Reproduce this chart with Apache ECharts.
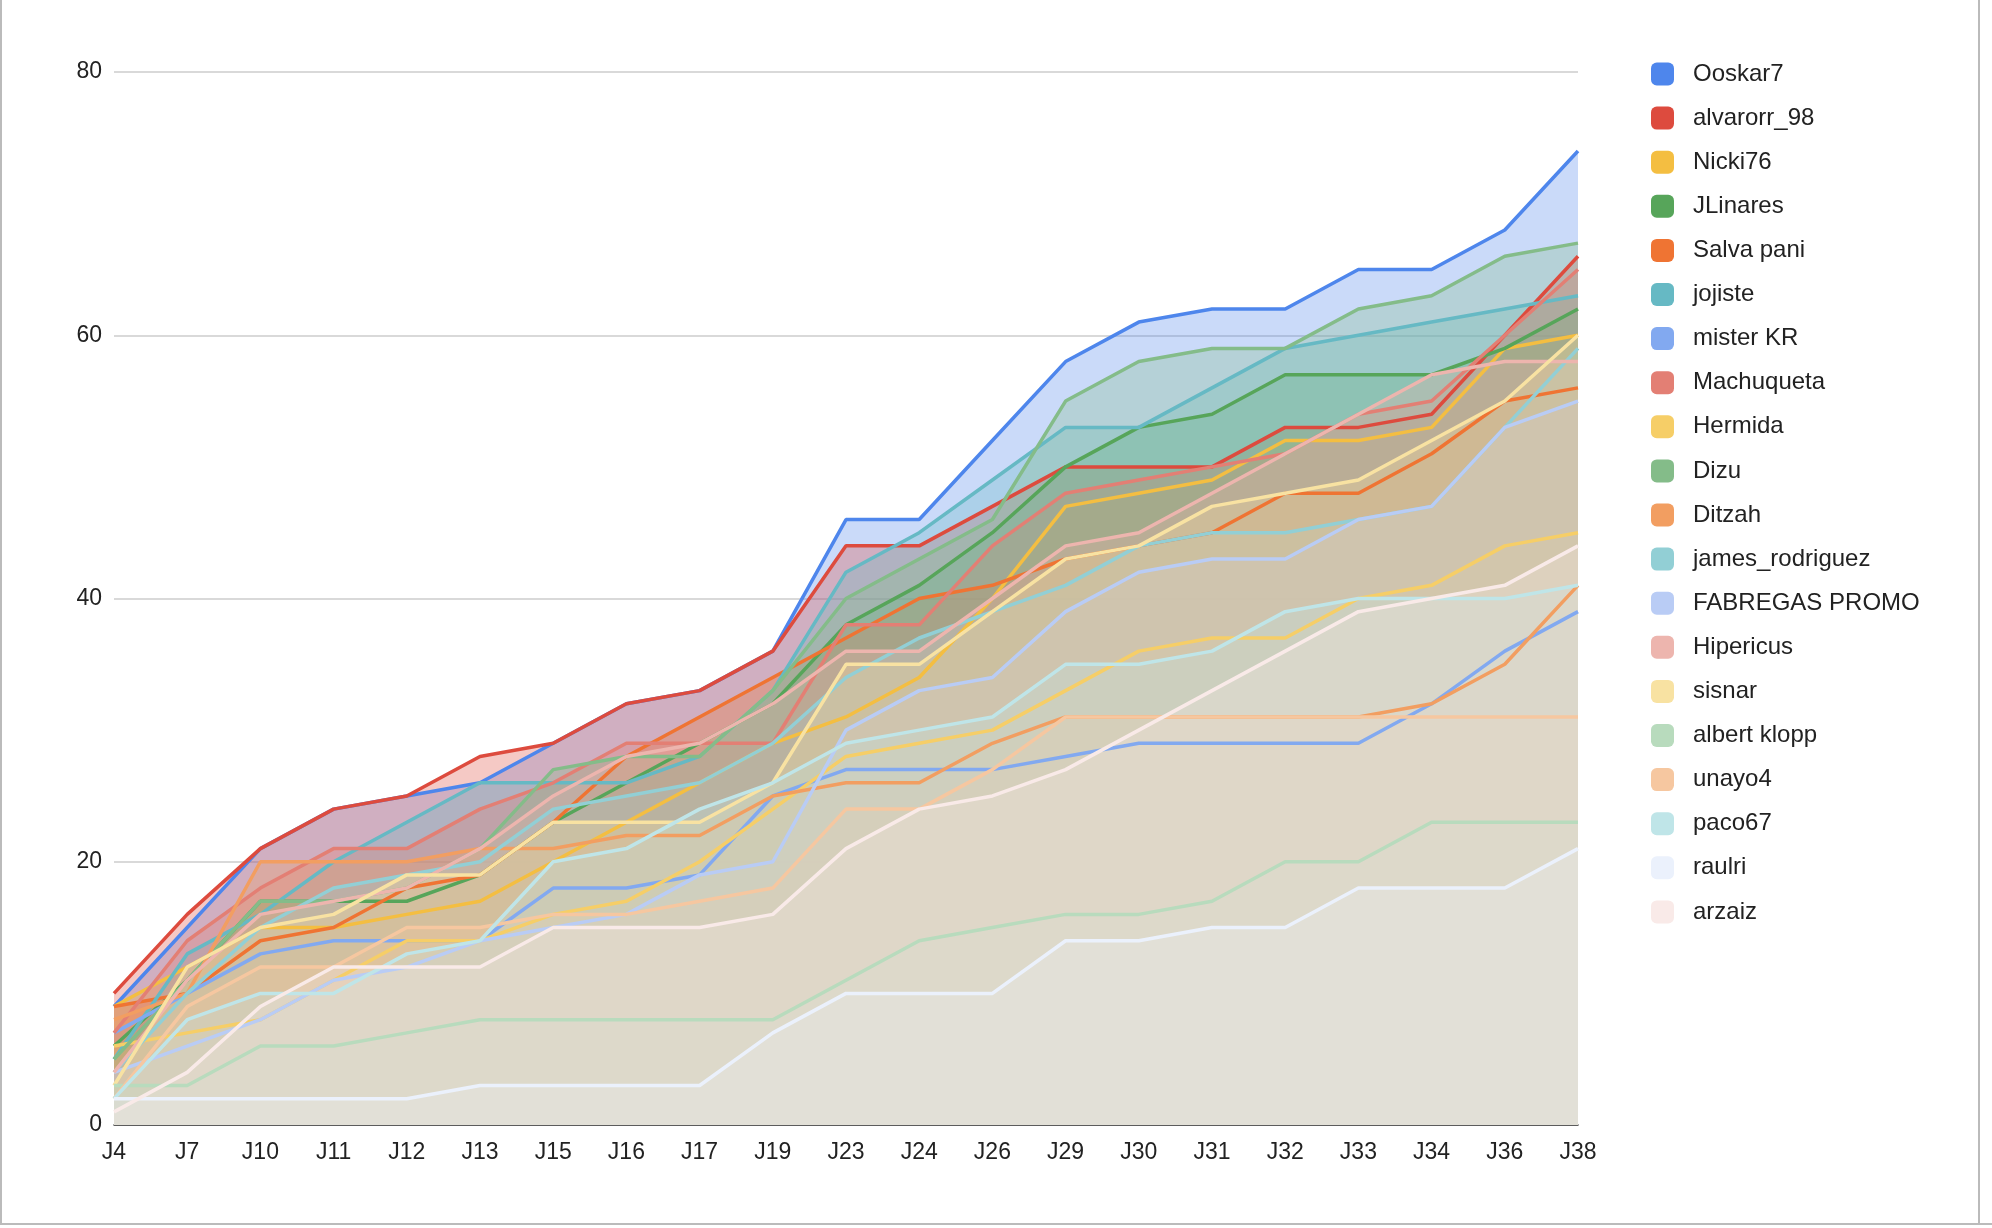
<!DOCTYPE html>
<html>
<head>
<meta charset="utf-8">
<script src="https://cdn.jsdelivr.net/npm/echarts@6/dist/echarts.min.js"></script>
<style>
html,body{margin:0;padding:0;background:#fff;}
#chart{width:1992px;height:1228px;}
</style>
</head>
<body>
<div id="chart"></div>
<script>
const categories = ['J4','J7','J10','J11','J12','J13','J15','J16','J17','J19','J23','J24','J26','J29','J30','J31','J32','J33','J34','J36','J38'];
const yTicks = [0, 20, 40, 60, 80];

const ooskar7        = [9,15,21,24,25,26,29,32,33,36,46,46,52,58,61,62,62,65,65,68,74];
const alvarorr98     = [10,16,21,24,25,28,29,32,33,36,44,44,47,50,50,50,53,53,54,60,66];
const nicki76        = [9,12,15,15,16,17,20,23,26,29,31,34,40,47,48,49,52,52,53,59,60];
const jlinares       = [6,11,17,17,17,19,23,26,29,32,38,41,45,50,53,54,57,57,57,59,62];
const salvaPani      = [9,10,14,15,18,19,23,28,31,34,37,40,41,43,44,45,48,48,51,55,56];
const jojiste        = [5,13,16,20,23,26,26,26,28,33,42,45,49,53,53,56,59,60,61,62,63];
const misterKR       = [7,10,13,14,14,14,18,18,19,25,27,27,27,28,29,29,29,29,32,36,39];
const machuqueta     = [7,14,18,21,21,24,26,29,29,29,38,38,44,48,49,50,51,54,55,60,65];
const hermida        = [6,7,8,11,14,14,16,17,20,24,28,29,30,33,36,37,37,40,41,44,45];
const dizu           = [5,11,17,17,18,21,27,28,28,33,40,43,46,55,58,59,59,62,63,66,67];
const ditzah         = [8,10,20,20,20,21,21,22,22,25,26,26,29,31,31,31,31,31,32,35,41];
const jamesRodriguez = [4,10,15,18,19,20,24,25,26,29,34,37,39,41,44,45,45,46,47,53,59];
const fabregasPromo  = [4,6,8,11,12,14,15,16,19,20,30,33,34,39,42,43,43,46,47,53,55];
const hipericus      = [4,11,16,17,18,21,25,28,29,32,36,36,40,44,45,48,51,54,57,58,58];
const sisnar         = [3,12,15,16,19,19,23,23,23,26,35,35,39,43,44,47,48,49,52,55,60];
const albertKlopp    = [3,3,6,6,7,8,8,8,8,8,11,14,15,16,16,17,20,20,23,23,23];
const unayo4         = [2,9,12,12,15,15,16,16,17,18,24,24,27,31,31,31,31,31,31,31,31];
const paco67         = [2,8,10,10,13,14,20,21,24,26,29,30,31,35,35,36,39,40,40,40,41];
const raulri         = [2,2,2,2,2,3,3,3,3,7,10,10,10,14,14,15,15,18,18,18,21];
const arzaiz         = [1,4,9,12,12,12,15,15,15,16,21,24,25,27,30,33,36,39,40,41,44];

const seriesNames = ['Ooskar7','alvarorr_98','Nicki76','JLinares','Salva pani','jojiste','mister KR','Machuqueta','Hermida','Dizu','Ditzah','james_rodriguez','FABREGAS PROMO','Hipericus','sisnar','albert klopp','unayo4','paco67','raulri','arzaiz'];
const seriesData = [ooskar7, alvarorr98, nicki76, jlinares, salvaPani, jojiste, misterKR, machuqueta, hermida, dizu, ditzah, jamesRodriguez, fabregasPromo, hipericus, sisnar, albertKlopp, unayo4, paco67, raulri, arzaiz];
const colors = ['#4E86EC','#DD4B3E','#F4BE41','#57A55A','#EF7433','#66B9C4','#82A9F0','#E37F74','#F6CE67','#84BC89','#F29E61','#92CFD5','#B9CCF5','#EDB5AE','#F8E2A2','#B8DBBD','#F6C7A0','#BFE5E8','#EBF1FC','#F9EAE8'];

const FONT = '"Liberation Sans", Arial, sans-serif';
const chart = echarts.init(document.getElementById('chart'), null, {renderer: 'canvas'});

chart.setOption({
  animation: false,
  backgroundColor: '#ffffff',
  color: colors,
  grid: {left: 114, right: 414, top: 72, bottom: 103, containLabel: false},
  legend: {
    orient: 'vertical',
    left: 1646,
    top: 57,
    icon: 'roundRect',
    itemWidth: 23,
    itemHeight: 23,
    itemGap: 20.1,
    textStyle: {fontFamily: FONT, fontSize: 24, lineHeight: 24, color: '#222', padding: [0, 0, 0, 14]},
    data: seriesNames
  },
  xAxis: {
    type: 'category',
    data: categories,
    boundaryGap: false,
    axisLine: {show: true, lineStyle: {color: '#333', width: 1.5}},
    axisTick: {show: false},
    axisLabel: {fontFamily: FONT, fontSize: 23, color: '#222', margin: 16},
    splitLine: {show: false}
  },
  yAxis: {
    type: 'value',
    min: yTicks[0],
    max: yTicks[yTicks.length - 1],
    interval: yTicks[1] - yTicks[0],
    axisLine: {show: false},
    axisTick: {show: false},
    axisLabel: {fontFamily: FONT, fontSize: 23, color: '#222', margin: 12},
    splitLine: {lineStyle: {color: '#cccccc', width: 1.5}}
  },
  graphic: [
    {type: 'line', shape: {x1: 1, y1: 0, x2: 1, y2: 1224}, style: {stroke: '#bbb', lineWidth: 2}},
    {type: 'line', shape: {x1: 1979, y1: 0, x2: 1979, y2: 1224}, style: {stroke: '#bbb', lineWidth: 2}},
    {type: 'line', shape: {x1: 0, y1: 1224, x2: 1992, y2: 1224}, style: {stroke: '#bbb', lineWidth: 2}}
  ],
  series: seriesNames.map((name, i) => ({
    name: name,
    type: 'line',
    data: seriesData[i],
    showSymbol: false,
    symbol: 'none',
    smooth: false,
    lineStyle: {width: 3.5, color: colors[i]},
    itemStyle: {color: colors[i]},
    areaStyle: {opacity: 0.3, color: colors[i]},
    emphasis: {disabled: true}
  }))
});
</script>
</body>
</html>
